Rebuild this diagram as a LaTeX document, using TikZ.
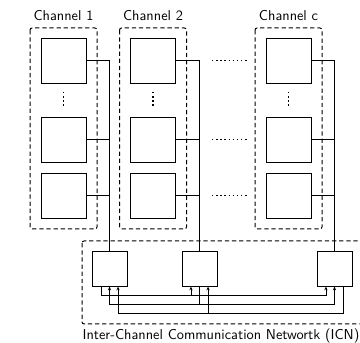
\documentclass[tikz,border=0pt]{standalone}
\usetikzlibrary{arrows.meta}
\tikzset{
  pebox/.style   = {draw,minimum width=31.5pt,minimum height=31.5pt,inner sep=0pt},
  rtbox/.style   = {draw,minimum width=24.5pt,minimum height=24pt,inner sep=0pt},
  grpbox/.style  = {draw,line width=0.7pt,dash pattern=on 3pt off 2pt,rounded corners=1.5pt},
  linkarr/.style = {-{Stealth[length=2.6pt,width=2.2pt]}},
  dotline/.style = {line width=1pt,dash pattern=on 1pt off 1.9pt}
}

\begin{document}
\begin{tikzpicture}[x=0.7pt,y=-0.7pt,font=\sffamily,line width=0.6pt]
  \useasboundingbox (0,0) rectangle (360,343);
  % channels
  \foreach \c/\x in {1/63.5, 2/153, c/288.5} {
    \draw[grpbox] ({\x-33.5},28) rectangle ({\x+33.5},229);
    \node (lab\c) at (\x,16) {Channel \c};
    \node[pebox] (p\c1) at (\x,60.5) {};
    \node[pebox] (p\c2) at (\x,139.5) {};
    \node[pebox] (p\c3) at (\x,195.5) {};
    \draw[dotline] (\x,92) -- (\x,108);
  }
  \foreach \y in {60.5,139.5,195.5}
    \draw[dotline] (212,\y) -- (248,\y);

  % ICN
  \draw[grpbox] (82,241) rectangle (368,324);
  \node (icnlab) at (221,336) {Inter-Channel Communication Networtk (ICN)};
  \node[rtbox] (r1) at (109.5,269) {};
  \node[rtbox] (r2) at (199.5,269) {};
  \node[rtbox] (rc) at (334.5,269) {};

  % buses
  \foreach \c/\r in {1/r1, 2/r2, c/rc} {
    \draw (p\c1.east) -| (\r.north);
    \draw (p\c2.east) -- (p\c2.east -| \r.north);
    \draw (p\c3.east) -- (p\c3.east -| \r.north);
  }

  \coordinate (lv1) at (0,295);
  \coordinate (lv2) at (0,304);
  \coordinate (lv3) at (0,313);
  % r1 -> r2, rc
  \draw[linkarr] ([xshift=-6pt]r1.south) |- ([xshift=-6pt]rc.south |- lv1) -- ([xshift=-6pt]rc.south);
  \draw[linkarr] ([xshift=-6pt]r2.south |- lv1) -- ([xshift=-6pt]r2.south);
  % r2 -> r1, rc
  \draw (r2.south) -- (r2.south |- lv2);
  \draw[linkarr] (r2.south |- lv2) -| (r1.south);
  \draw[linkarr] (r2.south |- lv2) -| (rc.south);
  % rc -> r1, r2
  \draw[linkarr] ([xshift=6pt]rc.south) |- ([xshift=6pt]r1.south |- lv3) -- ([xshift=6pt]r1.south);
  \draw[linkarr] ([xshift=6pt]r2.south |- lv3) -- ([xshift=6pt]r2.south);
\end{tikzpicture}
\end{document}
